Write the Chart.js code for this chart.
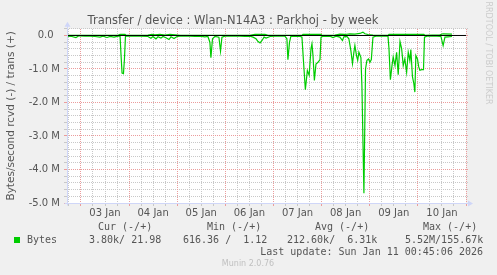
<!DOCTYPE html>
<html>
<head>
<meta charset="utf-8">
<script src="https://cdn.jsdelivr.net/npm/chart.js@4.4.1/dist/chart.umd.min.js"></script>
<style>
    html, body { margin: 0; padding: 0; background: #f0f0f0; }
    canvas { display: block; }
</style>
</head>
<body>
<canvas id="chart" width="497" height="275"></canvas>
<script>
// Time axis: hours since Jan 2 00:00, values in MB/s
const xMin = 17.05;
const xMax = 216.0;

// received bytes (drawn negative)
const rcvdHours = [
    17.1, 19.5, 21.5, 23.0, 26.0, 28.5, 31.0, 33.5, 35.0, 37.0, 38.5, 40.5, 42.5, 43.5,
    44.0, 44.5, 45.2, 45.7, 46.2, 47.5, 49.5, 51.0, 53.4, 57.4, 58.9, 59.9, 61.4, 62.4,
    63.9, 64.9, 66.4, 67.9, 68.9, 70.4, 71.9, 73.4, 75.9, 78.4, 80.9, 83.4, 85.8, 87.3,
    88.3, 88.8, 89.6, 90.8, 92.8, 93.6, 94.3, 95.8, 98.3, 100.8, 103.3, 105.8, 108.3, 109.8,
    111.3, 112.3, 113.3, 114.3, 115.3, 116.3, 118.3, 120.7, 123.2, 125.7, 126.7, 127.2, 128.0, 128.7,
    130.7, 133.2, 134.2, 135.0, 135.9, 136.9, 137.8, 138.7, 139.2, 139.7, 140.4, 141.2, 142.2, 143.2,
    143.7, 144.7, 146.7, 148.2, 149.7, 151.2, 153.1, 154.4, 155.1, 156.6, 157.6, 158.6, 159.4, 160.1,
    160.6, 161.4, 162.0, 162.6, 163.6, 164.1, 165.1, 165.9, 166.6, 167.4, 168.1, 168.8, 169.6, 171.1,
    173.1, 175.6, 177.1, 177.6, 178.3, 179.1, 179.7, 180.6, 181.4, 182.2, 183.1, 183.9, 184.7, 185.5,
    186.4, 187.2, 188.0, 188.5, 189.3, 190.0, 190.5, 191.0, 191.8, 192.4, 193.0, 193.9, 194.8, 195.3,
    196.5, 199.0, 201.5, 203.5, 204.6, 205.5, 207.0, 209.0
];
const rcvdValues = [
    -0.02, -0.03, -0.06, -0.01, -0.02, -0.02, -0.03, -0.05, -0.02, -0.06, -0.03, -0.05, -0.02, -0.01,
    -0.6, -1.12, -1.14, -0.7, -0.02, -0.01, -0.02, -0.01, -0.02, -0.03, -0.08, -0.03, -0.1, -0.04,
    -0.08, -0.03, -0.07, -0.12, -0.04, -0.09, -0.03, -0.02, -0.01, -0.02, -0.03, -0.02, -0.04, -0.03,
    -0.2, -0.66, -0.1, -0.03, -0.05, -0.47, -0.05, -0.02, -0.01, -0.02, -0.02, -0.03, -0.02, -0.05,
    -0.1, -0.18, -0.22, -0.15, -0.05, -0.08, -0.03, -0.02, -0.01, -0.02, -0.1, -0.72, -0.2, -0.02,
    -0.03, -0.02, -0.05, -0.8, -1.62, -1.05, -1.19, -0.4, -0.25, -0.6, -1.34, -0.85, -0.8, -0.72,
    -0.05, -0.02, -0.03, -0.02, -0.06, -0.02, -0.05, -0.15, -0.04, -0.03, -0.1, -0.45, -0.84, -0.5,
    -0.3, -0.6, -0.74, -0.5, -0.66, -1.5, -4.71, -1.0, -0.74, -0.7, -0.8, -0.72, -0.05, -0.02,
    -0.01, -0.02, -0.02, -0.4, -1.32, -0.9, -0.64, -0.9, -0.5, -1.17, -0.18, -0.39, -0.9, -0.7,
    -1.1, -0.5, -0.75, -0.42, -1.23, -1.44, -1.69, -0.6, -0.7, -0.93, -1.04, -1.02, -1.02, -0.05,
    -0.02, -0.01, -0.02, -0.03, -0.3, -0.05, -0.04, -0.03
];

// transmitted bytes (drawn positive)
const transHours = [
    17.1, 42.5, 43.5, 46.0, 46.5, 57.4, 59.4, 60.9, 63.4, 65.9, 68.4, 70.9, 73.4, 108.3,
    110.8, 115.8, 117.3, 134.2, 134.7, 143.7, 144.2, 150.7, 153.1, 155.6, 158.1, 160.6, 163.1, 164.6,
    165.6, 167.1, 169.6, 177.1, 177.6, 195.0, 195.5, 203.0, 204.5, 209.0
];
const transValues = [
    0.005, 0.005, 0.035, 0.035, 0.005, 0.01, 0.03, 0.02, 0.03, 0.01, 0.03, 0.02, 0.005, 0.005,
    0.03, 0.03, 0.005, 0.005, 0.035, 0.035, 0.005, 0.01, 0.04, 0.03, 0.05, 0.04, 0.06, 0.1,
    0.05, 0.03, 0.01, 0.005, 0.035, 0.035, 0.005, 0.02, 0.05, 0.04
];

const yMin = -5.0;
const yMax = 0.2;

// legend table
const legendHeads = ["Cur (-/+)", "Min (-/+)", "Avg (-/+)", "Max (-/+)"];
const legendValues = ["3.80k/ 21.98", "616.36 /  1.12", "212.60k/  6.31k", "5.52M/155.67k"];
const lastUpdate = "Last update: Sun Jan 11 00:45:06 2026";

const green = "#00cc00";
const textColor = "#555555";
const majorGrid = "#eb9c9c";
const minorGrid = "#c8c8c8";
const axisColor = "#cfd6f8";

function toPoints(xs, ys) {
    return xs.map((x, i) => ({ x: x, y: ys[i] }));
}

function stepTicks(from, to, step) {
    const out = [];
    for (let v = from; v <= to + 1e-9; v += step) {
        out.push({ value: Math.round(v * 1000) / 1000 });
    }
    return out;
}

function isWhole(v) {
    return Math.abs(v - Math.round(v)) < 1e-6;
}

function isMajorX(v) {
    return v % 24 === 0;
}

// background, dotted grid, arrows and the rrdtool style legend
const muninPlugin = {
    id: "munin",
    beforeDraw(chart) {
        const { ctx, chartArea: a } = chart;
        ctx.save();
        ctx.fillStyle = "#f0f0f0";
        ctx.fillRect(0, 0, chart.width, chart.height);
        ctx.fillStyle = "#ffffff";
        ctx.fillRect(a.left, a.top, a.right - a.left, a.bottom - a.top);
        ctx.restore();
    },
    beforeDatasetsDraw(chart) {
        const { ctx, chartArea: a, scales } = chart;
        const top = Math.ceil(a.top);
        const bottom = Math.floor(a.bottom);
        const left = Math.floor(a.left);
        const right = Math.floor(a.right);
        ctx.save();
        // 1px on / 1px off dots, minor lines first, majors on top
        [false, true].forEach((major) => {
            ctx.fillStyle = major ? majorGrid : minorGrid;
            scales.x.ticks.forEach((t) => {
                if (isMajorX(t.value) !== major) return;
                const col = Math.floor(scales.x.getPixelForValue(t.value));
                for (let y = top; y <= bottom + 2; y += 2) ctx.fillRect(col, y, 1, 1);
            });
            scales.y.ticks.forEach((t) => {
                if (isWhole(t.value) !== major) return;
                const row = Math.floor(scales.y.getPixelForValue(t.value));
                for (let x = left - 2; x <= right + 2; x += 2) ctx.fillRect(x, row, 1, 1);
            });
        });
        ctx.restore();
    },
    afterDraw(chart) {
        const { ctx, chartArea: a } = chart;
        const left = Math.round(a.left) + 0.5;
        const bottom = Math.round(a.bottom) + 0.5;
        ctx.save();
        ctx.strokeStyle = axisColor;
        ctx.fillStyle = axisColor;
        ctx.lineWidth = 1;
        ctx.beginPath();
        ctx.moveTo(left, bottom + 2);
        ctx.lineTo(left, a.top - 3);
        ctx.moveTo(left - 3, bottom);
        ctx.lineTo(a.right + 3, bottom);
        ctx.stroke();
        // arrows
        ctx.beginPath();
        ctx.moveTo(left, a.top - 7);
        ctx.lineTo(left - 3, a.top - 2);
        ctx.lineTo(left + 3, a.top - 2);
        ctx.closePath();
        ctx.fill();
        ctx.beginPath();
        ctx.moveTo(a.right + 7, bottom);
        ctx.lineTo(a.right + 2, bottom - 3);
        ctx.lineTo(a.right + 2, bottom + 3);
        ctx.closePath();
        ctx.fill();

        // legend
        ctx.font = '10px "DejaVu Sans Mono"';
        ctx.fillStyle = textColor;
        ctx.textBaseline = "middle";
        ctx.textAlign = "left";
        const headX = [98, 207, 315, 423];
        legendHeads.forEach((t, i) => ctx.fillText(t, headX[i], 227.5));
        const valX = [89, 183, 287, 405];
        legendValues.forEach((t, i) => ctx.fillText(t, valX[i], 240));
        ctx.fillText("Bytes", 27, 240);
        ctx.fillStyle = green;
        ctx.fillRect(14, 237, 6, 6);
        ctx.fillStyle = textColor;
        ctx.textAlign = "right";
        ctx.fillText(lastUpdate, 483, 252);

        ctx.font = '8px "DejaVu Sans"';
        ctx.fillStyle = "#c0c0c0";
        ctx.textAlign = "center";
        ctx.fillText("Munin 2.0.76", 248, 264);

        ctx.translate(488, 53);
        ctx.rotate(Math.PI / 2);
        ctx.fillStyle = "#cccccc";
        ctx.fillText("RRDTOOL / TOBI OETIKER", 0, 0);
        ctx.restore();
    },
};

Chart.defaults.font.family = "'DejaVu Sans', sans-serif";
Chart.defaults.color = textColor;

new Chart(document.getElementById("chart"), {
    type: "line",
    data: {
        datasets: [
            {
                label: "zero",
                data: [{ x: xMin, y: 0 }, { x: xMax, y: 0 }],
                borderColor: "#000000",
                borderWidth: 1,
                pointRadius: 0,
            },
            {
                label: "rcvd",
                data: toPoints(rcvdHours, rcvdValues),
                borderColor: green,
                borderWidth: 1.2,
                pointRadius: 0,
                tension: 0,
            },
            {
                label: "trans",
                data: toPoints(transHours, transValues),
                borderColor: green,
                borderWidth: 1.2,
                pointRadius: 0,
                tension: 0,
            },
        ],
    },
    options: {
        responsive: false,
        animation: false,
        devicePixelRatio: 1,
        layout: { padding: { left: 0, right: 31, top: 0, bottom: 0 } },
        plugins: {
            legend: { display: false },
            tooltip: { enabled: false },
            title: {
                display: true,
                text: "Transfer / device : Wlan-N14A3 : Parkhoj - by week",
                color: textColor,
                font: { size: 11.5, weight: "normal", lineHeight: 1.25 },
                padding: { top: 14, bottom: 0.4 },
            },
        },
        scales: {
            x: {
                type: "linear",
                min: xMin,
                max: xMax,
                afterBuildTicks: (scale) => {
                    scale.ticks = stepTicks(18, 216, 6);
                },
                afterFit: (scale) => {
                    scale.height = 72;
                },
                ticks: {
                    autoSkip: false,
                    maxRotation: 0,
                    minRotation: 0,
                    padding: 1,
                    font: { size: 10 },
                    callback: (v) => {
                        if (v % 24 !== 12) return "";
                        const day = 2 + Math.floor(v / 24);
                        return String(day).padStart(2, "0") + " Jan";
                    },
                },
                grid: {
                    drawOnChartArea: false,
                    tickColor: (c) => (c.tick && isMajorX(c.tick.value) ? majorGrid : minorGrid),
                    tickLength: 3,
                },
                border: { display: false },
            },
            y: {
                min: yMin,
                max: yMax,
                afterBuildTicks: (scale) => {
                    scale.ticks = stepTicks(yMin, yMax, 0.2);
                },
                afterFit: (scale) => {
                    scale.width = 67;
                },
                ticks: {
                    autoSkip: false,
                    padding: 4,
                    font: { size: 10 },
                    callback: (v) => {
                        if (!isWhole(v)) return "";
                        if (Math.round(v) === 0) return "0.0  ";
                        return v.toFixed(1) + " M";
                    },
                },
                grid: {
                    drawOnChartArea: false,
                    tickColor: (c) => (c.tick && isWhole(c.tick.value) ? majorGrid : minorGrid),
                    tickLength: 3,
                },
                border: { display: false },
                title: {
                    display: true,
                    text: "Bytes/second rcvd (-) / trans (+)",
                    color: textColor,
                    font: { size: 10.5 },
                    padding: { top: 5, bottom: 0 },
                },
            },
        },
    },
    plugins: [muninPlugin],
});
</script>
</body>
</html>
